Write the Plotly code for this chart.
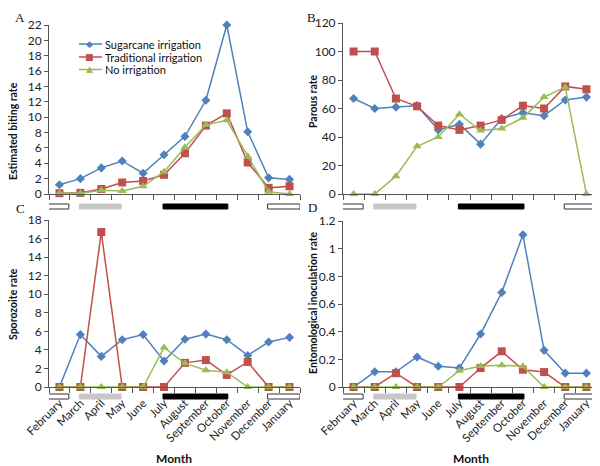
import plotly.graph_objects as go

months = ["February", "March", "April", "May", "June", "July", "August",
          "September", "October", "November", "December", "January"]
series_names = ["Sugarcane irrigation", "Traditional irrigation", "No irrigation"]

# A: estimated biting rate
biting_sugar = [1.2, 2.0, 3.4, 4.3, 2.7, 5.1, 7.5, 12.2, 22.0, 8.1, 2.1, 1.9]
biting_trad = [0.1, 0.15, 0.65, 1.5, 1.7, 2.5, 5.3, 8.9, 10.5, 4.1, 0.8, 1.0]
biting_none = [0.1, 0.1, 0.5, 0.4, 1.0, 2.9, 6.1, 9.0, 9.6, 4.9, 0.3, 0.0]

# B: parous rate
parous_sugar = [67, 60, 61, 62, 45, 49, 35, 53, 57, 55, 66, 68]
parous_trad = [100, 100, 67, 61.5, 48, 45, 48, 52, 62, 60, 75.5, 73.5]
parous_none = [0, 0, 12.5, 33.5, 40, 56, 44.5, 46, 53.5, 68, 75, 0]

# C: sporozoite rate
sporo_sugar = [0, 5.65, 3.3, 5.1, 5.65, 2.8, 5.15, 5.7, 5.1, 3.4, 4.85, 5.35]
sporo_trad = [0, 0, 16.7, 0, 0, 0, 2.6, 2.9, 1.3, 2.7, 0, 0]
sporo_none = [0, 0, 0, 0, 0, 4.25, 2.55, 1.8, 1.6, 0, 0, 0]

# D: entomological inoculation rate
eir_sugar = [0, 0.11, 0.11, 0.217, 0.15, 0.137, 0.383, 0.684, 1.10, 0.265, 0.1, 0.1]
eir_trad = [0, 0, 0.10, 0, 0, 0, 0.137, 0.258, 0.125, 0.108, 0, 0]
eir_none = [0, 0, 0, 0, 0, 0.118, 0.152, 0.157, 0.15, 0, 0, 0]

# season bars under each panel (category units)
seasons = [(-0.55, 0.45, "white"), (0.95, 2.95, "#C8C8C8"),
           (4.95, 8.05, "black"), (9.95, 11.5, "white")]

colors = ["#4F81BD", "#C0504D", "#9BBB59"]
symbols = ["diamond", "square", "triangle-up"]
legend_glyphs = ["\u25C6", "\u25A0", "\u25B2"]
sizes = [7, 8, 8]
FONT = "Lato"

W, H = 600, 466
OFF = 8  # page body margin


def px(sx):
    return (sx - OFF) / W


def py(sy):
    return 1 - (sy - OFF) / H


panels = [
    ("x", "y", [biting_sugar, biting_trad, biting_none], [0, 22], 2),
    ("x2", "y2", [parous_sugar, parous_trad, parous_none], [0, 120], 20),
    ("x3", "y3", [sporo_sugar, sporo_trad, sporo_none], [0, 18], 2),
    ("x4", "y4", [eir_sugar, eir_trad, eir_none], [0, 1.2], 0.2),
]

fig = go.Figure()
for p, (xa, ya, data, yr, dt) in enumerate(panels):
    for i, vals in enumerate(data):
        fig.add_trace(go.Scatter(
            x=months, y=vals, xaxis=xa, yaxis=ya, mode="lines+markers",
            name=series_names[i], showlegend=False, cliponaxis=False,
            line=dict(color=colors[i], width=1.5),
            marker=dict(symbol=symbols[i], size=sizes[i], color=colors[i]),
        ))

xdom_left = [px(49), px(300)]
xdom_right = [px(343), px(597)]
doms = [
    (xdom_left, [py(194), py(25)]),
    (xdom_right, [py(194), py(23)]),
    (xdom_left, [py(387), py(220)]),
    (xdom_right, [py(387), py(221)]),
]

layout = {}
for p, (xa, ya, data, yr, dt) in enumerate(panels):
    xk = "xaxis" if p == 0 else f"xaxis{p + 1}"
    yk = "yaxis" if p == 0 else f"yaxis{p + 1}"
    layout[xk] = dict(
        domain=doms[p][0], anchor=ya, type="category", range=[-0.5, 11.5],
        tickson="boundaries", ticks="outside", ticklen=5, tickcolor="#555",
        showline=True, linecolor="#555", linewidth=1, showgrid=False,
        showticklabels=(p >= 2), tickangle=-45, ticklabelstandoff=4,
        automargin=False,
        tickfont=dict(family=FONT, size=11.5, color="#222"),
    )
    layout[yk] = dict(
        domain=doms[p][1], anchor=xa, range=yr, dtick=dt,
        ticks="outside", ticklen=4, tickcolor="#555", showline=True,
        linecolor="#555", linewidth=1, showgrid=False, zeroline=False,
        automargin=False,
        tickfont=dict(family=FONT, size=12, color="#222"),
    )

fig.update_layout(**layout)

# season bars
bar_y = [(py(209), py(204)), (py(209), py(204)),
         (py(399), py(394)), (py(399), py(394))]
for p, (xa, ya, data, yr, dt) in enumerate(panels):
    for x0, x1, c in seasons:
        fig.add_shape(type="rect", xref=xa, yref="paper", x0=x0, x1=x1,
                      y0=bar_y[p][0], y1=bar_y[p][1], fillcolor=c,
                      line=dict(color="#333" if c == "white" else c, width=1))

# legend drawn by hand (tight rows as in the original)
for i, (name, ry) in enumerate(zip(series_names, [44, 57, 69.5])):
    fig.add_shape(type="line", xref="paper", yref="paper", x0=px(79), x1=px(102),
                  y0=py(ry), y1=py(ry), line=dict(color=colors[i], width=1.5))
    fig.add_annotation(text=legend_glyphs[i], x=px(89), y=py(ry), xref="paper",
                       yref="paper", showarrow=False, xanchor="center",
                       yanchor="middle",
                       font=dict(family="DejaVu Sans", size=9, color=colors[i]))
    fig.add_annotation(text=name, x=px(103), y=py(ry), xref="paper", yref="paper",
                       showarrow=False, xanchor="left", yanchor="middle",
                       font=dict(family=FONT, size=11, color="#111"))

titles = [("Estimated biting rate", 13, 131),
          ("Parous rate", 313, 101),
          ("Sporozoite rate", 13, 304),
          ("Entomological inoculation rate", 313, 303)]
for t, sx, sy in titles:
    fig.add_annotation(text=f"<b>{t}</b>", x=px(sx), y=py(sy), xref="paper",
                       yref="paper", textangle=-90, showarrow=False,
                       xanchor="center", yanchor="middle",
                       font=dict(family=FONT, size=10.5, color="#111"))
for sx in (174, 471):
    fig.add_annotation(text="<b>Month</b>", x=px(sx), y=py(458), xref="paper",
                       yref="paper", showarrow=False, xanchor="center",
                       yanchor="middle", font=dict(family=FONT, size=12, color="#111"))
# panel letters; the top ones sit at the very top edge of the page
for letter, sx, sy, anc in [("A", 20, 8, "top"), ("B", 311, 8, "top"),
                            ("C", 20, 208, "middle"), ("D", 312, 207, "middle")]:
    fig.add_annotation(text=letter, x=px(sx), y=py(sy), xref="paper",
                       yref="paper", showarrow=False, xanchor="center",
                       yanchor=anc,
                       font=dict(family="Liberation Serif", size=13, color="#111"))

fig.update_layout(
    width=W, height=H, margin=dict(l=0, r=0, t=0, b=0, autoexpand=False),
    paper_bgcolor="white", plot_bgcolor="white", showlegend=False,
    font=dict(family=FONT, color="#111"),
)

fig.write_html("out.html")
